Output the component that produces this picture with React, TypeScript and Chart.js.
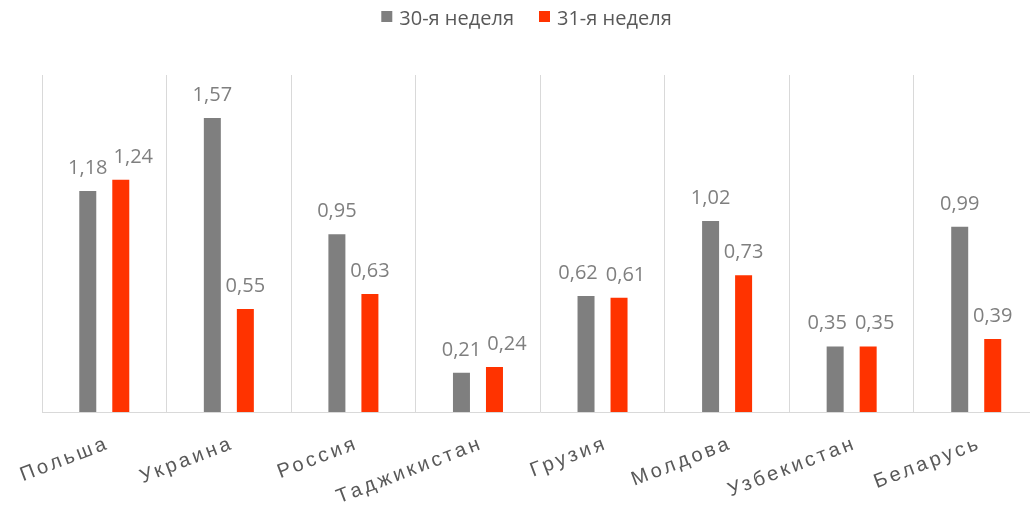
import React, { useEffect, useRef } from "react";
import { Chart, registerables } from "chart.js";

Chart.register(...registerables);

const categories = ["Польша", "Украина", "Россия", "Таджикистан", "Грузия", "Молдова", "Узбекистан", "Беларусь"];
const week30 = [1.18, 1.57, 0.95, 0.21, 0.62, 1.02, 0.35, 0.99];
const week31 = [1.24, 0.55, 0.63, 0.24, 0.61, 0.73, 0.35, 0.39];
const seriesLabels = ["30-я неделя", "31-я неделя"];
const seriesColors = ["#7f7f7f", "#ff3300"];

const fmt = (v: number) => v.toFixed(2).replace(".", ",");

const legendPlugin = {
  id: "customLegend",
  afterDraw(chart: any) {
    const ctx = chart.ctx as CanvasRenderingContext2D;
    ctx.save();
    ctx.font = "20px 'Open Sans'";
    const box = 11;
    const boxGap = 7;
    const itemGap = 25;
    const items = chart.data.datasets.map((d: any) => ({
      label: d.label,
      color: d.backgroundColor,
      w: ctx.measureText(d.label).width,
    }));
    const total = items.reduce((s: number, it: any) => s + box + boxGap + it.w, 0) + itemGap * (items.length - 1);
    let x = chart.width / 2 - total / 2;
    for (const it of items) {
      ctx.fillStyle = it.color;
      ctx.fillRect(x, 11, box, box);
      x += box + boxGap;
      ctx.fillStyle = "#595959";
      ctx.textAlign = "left";
      ctx.textBaseline = "alphabetic";
      ctx.fillText(it.label, x, 25);
      x += it.w + itemGap;
    }
    ctx.restore();
  },
};

const xLabelPlugin = {
  id: "xLabels",
  afterDraw(chart: any) {
    const ctx = chart.ctx as CanvasRenderingContext2D;
    const xs = chart.scales.x;
    const spacing = 3.2;
    ctx.save();
    ctx.font = "20px 'Liberation Sans'";
    (ctx as any).letterSpacing = spacing + "px";
    ctx.fillStyle = "#595959";
    ctx.textAlign = "right";
    ctx.textBaseline = "alphabetic";
    const ang = (-21 * Math.PI) / 180;
    chart.data.labels.forEach((lab: string, i: number) => {
      const x = xs.getPixelForValue(i);
      ctx.save();
      ctx.translate(x + 3, 449);
      ctx.rotate(ang);
      ctx.fillText(lab, spacing, 0);
      ctx.restore();
    });
    ctx.restore();
  },
};

const dataLabelPlugin = {
  id: "dataLabels",
  afterDatasetsDraw(chart: any) {
    const ctx = chart.ctx as CanvasRenderingContext2D;
    ctx.save();
    ctx.font = "20px 'Open Sans'";
    ctx.fillStyle = "#7f7f7f";
    ctx.textAlign = "center";
    ctx.textBaseline = "alphabetic";
    const m0 = chart.getDatasetMeta(0);
    const m1 = chart.getDatasetMeta(1);
    const n = chart.data.labels.length;
    for (let i = 0; i < n; i++) {
      const v0 = chart.data.datasets[0].data[i];
      const v1 = chart.data.datasets[1].data[i];
      const a = { x: m0.data[i].x, y: m0.data[i].y - 17, t: fmt(v0), w: 0 };
      const b = { x: m1.data[i].x, y: m1.data[i].y - 17, t: fmt(v1), w: 0 };
      a.w = ctx.measureText(a.t).width;
      b.w = ctx.measureText(b.t).width;
      const dy = Math.abs(a.y - b.y);
      if (dy < 15) {
        const equal = dy < 3;
        const gap = equal ? 8 : 6;
        const need = a.w / 2 + b.w / 2 + gap - (b.x - a.x);
        if (need > 0) {
          if (equal) {
            a.x -= need * 0.55;
            b.x += need * 0.45;
          } else if (b.y < a.y) {
            b.x += need;
          } else {
            a.x -= need;
          }
        }
      }
      ctx.fillText(a.t, a.x, a.y);
      ctx.fillText(b.t, b.x, b.y);
    }
    ctx.restore();
  },
};

export default function App() {
  const ref = useRef<HTMLCanvasElement | null>(null);
  useEffect(() => {
    if (!ref.current) return;
    const chart = new Chart(ref.current, {
      type: "bar",
      data: {
        labels: categories,
        datasets: [
          { label: seriesLabels[0], data: week30, backgroundColor: seriesColors[0], barPercentage: 0.515, categoryPercentage: 0.53 },
          { label: seriesLabels[1], data: week31, backgroundColor: seriesColors[1], barPercentage: 0.515, categoryPercentage: 0.53 },
        ],
      },
      options: {
        responsive: false,
        animation: false,
        layout: { padding: { left: 42, right: 14.5, top: 75, bottom: 102 } },
        plugins: { legend: { display: false }, tooltip: { enabled: false } },
        scales: {
          x: {
            grid: { color: "#d9d9d9", drawTicks: false, offset: true, lineWidth: 1 },
            border: { color: "#d9d9d9", width: 1 },
            ticks: { display: false },
          },
          y: { display: false, min: 0, max: 1.8 },
        },
      },
      plugins: [legendPlugin, xLabelPlugin, dataLabelPlugin],
    });
    return () => chart.destroy();
  }, []);
  return (
    <div style={{ position: "fixed", left: 0, top: 0, width: 1030, height: 514, overflow: "hidden", background: "#fff" }}>
      <canvas ref={ref} width={1053} height={514} style={{ display: "block" }} />
    </div>
  );
}
